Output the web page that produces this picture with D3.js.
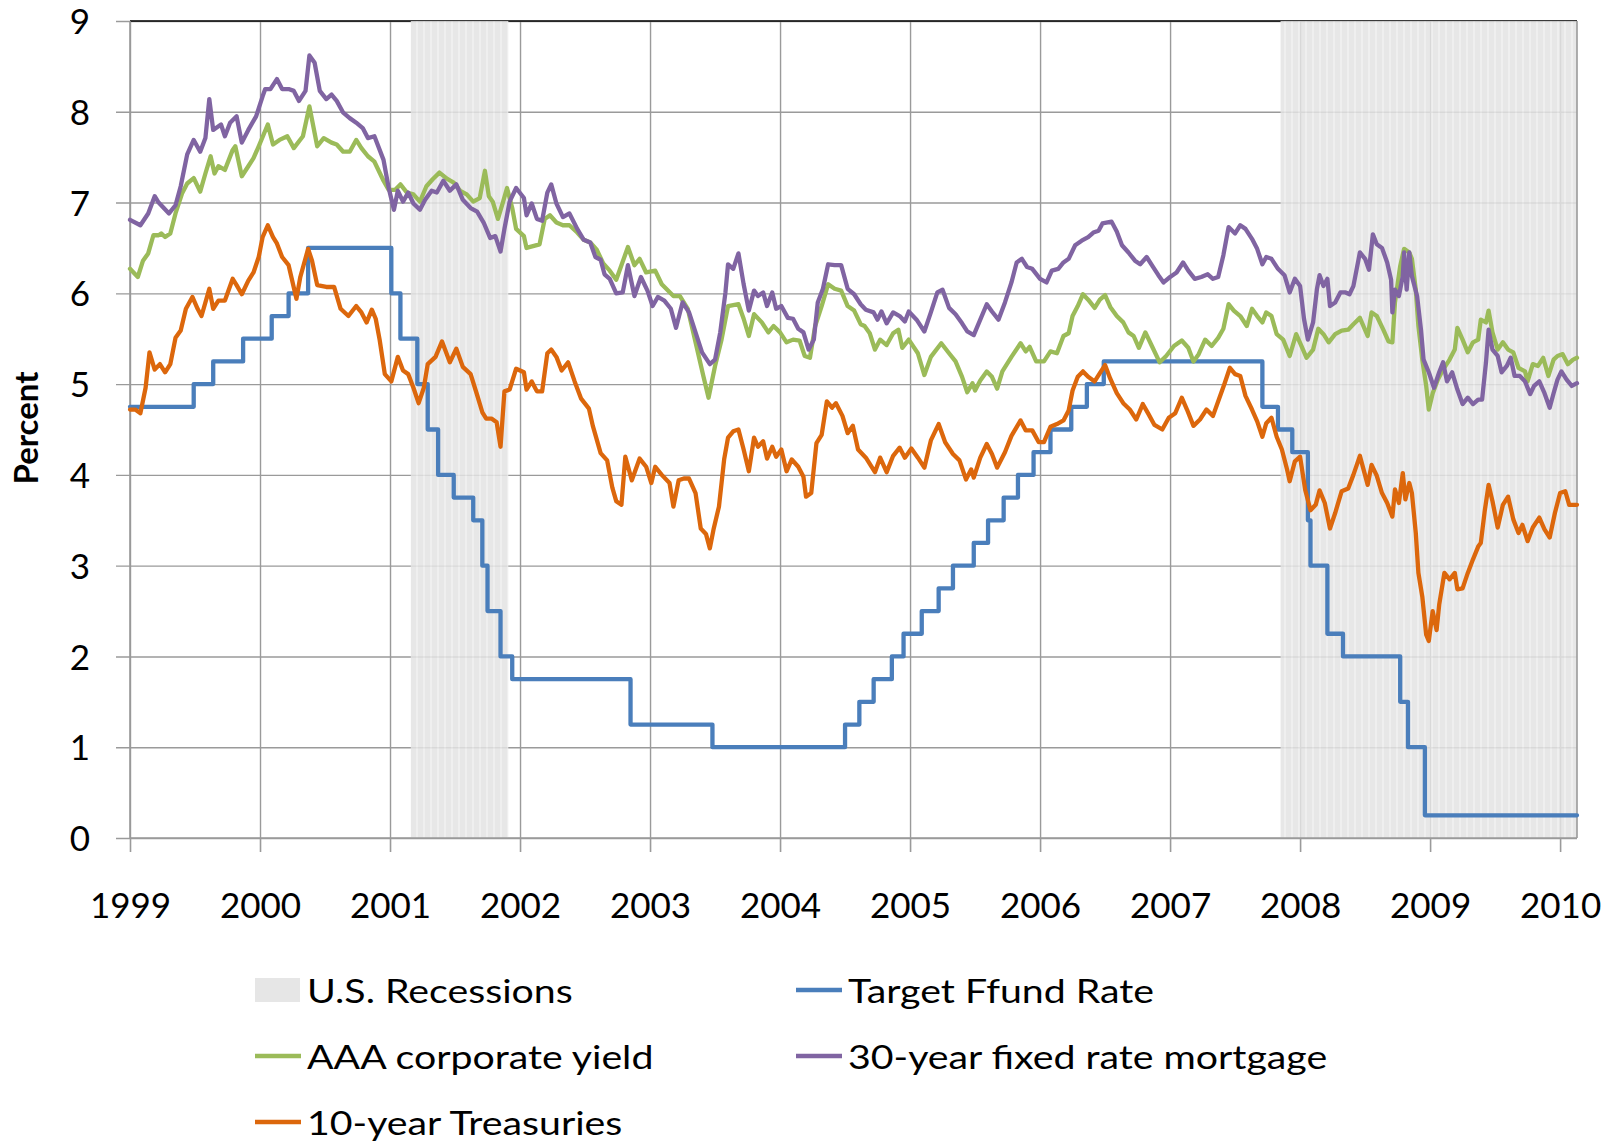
<!DOCTYPE html>
<html>
<head>
<meta charset="utf-8">
<script src="https://cdn.jsdelivr.net/npm/d3@7/dist/d3.min.js"></script>
<style>
  body { margin: 0; background: #fff; }
  svg { display: block; font-family: Lato, "Open Sans", sans-serif; }
</style>
</head>
<body>
<svg width="1609" height="1143"></svg>
<script>
// values, [decimal year, percent]
const yearTicks = [1999, 2000, 2001, 2002, 2003, 2004, 2005, 2006, 2007, 2008, 2009, 2010];
const percentTicks = [0, 1, 2, 3, 4, 5, 6, 7, 8, 9];
const recessions = [[2001.16, 2001.91], [2007.85, 2010.13]];

// target federal funds rate, value in force from each date
const ffund = [
  [1999.00, 4.75], [1999.49, 5.00], [1999.64, 5.25], [1999.87, 5.50], [2000.09, 5.75],
  [2000.22, 6.00], [2000.37, 6.50], [2001.01, 6.00], [2001.08, 5.50], [2001.21, 5.00],
  [2001.29, 4.50], [2001.37, 4.00], [2001.49, 3.75], [2001.64, 3.50], [2001.71, 3.00],
  [2001.75, 2.50], [2001.85, 2.00], [2001.94, 1.75], [2002.85, 1.25], [2003.48, 1.00],
  [2004.50, 1.25], [2004.61, 1.50], [2004.72, 1.75], [2004.86, 2.00], [2004.95, 2.25],
  [2005.09, 2.50], [2005.22, 2.75], [2005.33, 3.00], [2005.49, 3.25], [2005.60, 3.50],
  [2005.72, 3.75], [2005.83, 4.00], [2005.95, 4.25], [2006.08, 4.50], [2006.24, 4.75],
  [2006.36, 5.00], [2006.49, 5.25], [2007.71, 4.75], [2007.83, 4.50], [2007.94, 4.25],
  [2008.06, 3.50], [2008.08, 3.00], [2008.21, 2.25], [2008.33, 2.00], [2008.77, 1.50],
  [2008.83, 1.00], [2008.96, 0.25], [2010.13, 0.25]
];

const aaa = [
  [1999.00,6.27],[1999.06,6.18],[1999.10,6.36],[1999.14,6.44],[1999.18,6.64],[1999.22,6.64],[1999.24,6.66],[1999.27,6.62],[1999.31,6.66],[1999.35,6.88],
  [1999.40,7.10],[1999.44,7.21],[1999.49,7.27],[1999.54,7.12],[1999.58,7.32],[1999.62,7.51],[1999.65,7.32],[1999.68,7.40],[1999.73,7.36],[1999.79,7.58],
  [1999.81,7.62],[1999.86,7.29],[1999.91,7.40],[1999.95,7.49],[1999.99,7.62],[2000.06,7.86],[2000.10,7.64],[2000.15,7.69],[2000.21,7.73],[2000.26,7.60],
  [2000.33,7.73],[2000.38,8.06],[2000.44,7.62],[2000.49,7.71],[2000.55,7.66],[2000.59,7.64],[2000.64,7.56],[2000.69,7.56],[2000.74,7.69],[2000.78,7.60],
  [2000.83,7.51],[2000.88,7.45],[2000.95,7.24],[2000.99,7.14],[2001.04,7.14],[2001.08,7.20],[2001.13,7.11],[2001.18,7.09],[2001.23,7.01],[2001.28,7.18],
  [2001.33,7.26],[2001.38,7.33],[2001.44,7.26],[2001.49,7.22],[2001.54,7.13],[2001.59,7.09],[2001.64,7.01],[2001.69,7.05],[2001.73,7.35],[2001.76,7.07],
  [2001.79,7.01],[2001.83,6.82],[2001.87,7.01],[2001.90,7.16],[2001.94,6.94],[2001.97,6.71],[2002.03,6.63],[2002.05,6.50],[2002.10,6.52],[2002.15,6.54],
  [2002.19,6.82],[2002.23,6.86],[2002.28,6.78],[2002.33,6.75],[2002.38,6.75],[2002.44,6.67],[2002.49,6.59],[2002.54,6.56],[2002.59,6.48],[2002.64,6.33],
  [2002.69,6.25],[2002.74,6.15],[2002.83,6.51],[2002.88,6.31],[2002.92,6.38],[2002.97,6.23],[2003.04,6.25],[2003.09,6.10],[2003.18,5.97],[2003.23,5.97],
  [2003.29,5.83],[2003.35,5.46],[2003.41,5.09],[2003.45,4.85],[2003.50,5.20],[2003.55,5.49],[2003.60,5.86],[2003.68,5.88],[2003.72,5.72],[2003.76,5.53],
  [2003.80,5.77],[2003.86,5.68],[2003.91,5.57],[2003.95,5.64],[2004.00,5.57],[2004.05,5.46],[2004.10,5.49],[2004.15,5.48],[2004.19,5.31],[2004.23,5.29],
  [2004.27,5.64],[2004.32,5.86],[2004.37,6.10],[2004.42,6.05],[2004.47,6.03],[2004.52,5.86],[2004.57,5.81],[2004.62,5.66],[2004.65,5.64],[2004.69,5.56],
  [2004.73,5.38],[2004.77,5.49],[2004.82,5.43],[2004.87,5.56],[2004.91,5.60],[2004.94,5.40],[2004.99,5.49],[2005.06,5.34],[2005.11,5.10],[2005.16,5.30],
  [2005.24,5.45],[2005.30,5.34],[2005.35,5.25],[2005.40,5.08],[2005.44,4.91],[2005.48,5.01],[2005.50,4.93],[2005.54,5.04],[2005.59,5.14],[2005.63,5.08],
  [2005.67,4.95],[2005.71,5.14],[2005.78,5.30],[2005.85,5.45],[2005.89,5.36],[2005.92,5.41],[2005.97,5.25],[2006.03,5.25],[2006.08,5.36],[2006.13,5.34],
  [2006.18,5.53],[2006.22,5.56],[2006.25,5.75],[2006.29,5.86],[2006.33,5.99],[2006.37,5.93],[2006.42,5.84],[2006.46,5.93],[2006.50,5.98],[2006.54,5.85],
  [2006.59,5.75],[2006.64,5.68],[2006.68,5.57],[2006.72,5.53],[2006.76,5.40],[2006.81,5.57],[2006.86,5.42],[2006.92,5.24],[2006.97,5.31],[2007.03,5.42],
  [2007.09,5.48],[2007.14,5.40],[2007.18,5.25],[2007.22,5.33],[2007.27,5.49],[2007.32,5.42],[2007.37,5.51],[2007.41,5.61],[2007.45,5.88],[2007.49,5.81],
  [2007.54,5.75],[2007.59,5.64],[2007.63,5.83],[2007.67,5.75],[2007.71,5.68],[2007.74,5.79],[2007.78,5.75],[2007.82,5.55],[2007.87,5.49],[2007.92,5.31],
  [2007.97,5.55],[2008.01,5.42],[2008.05,5.29],[2008.10,5.38],[2008.14,5.61],[2008.18,5.55],[2008.22,5.46],[2008.27,5.55],[2008.32,5.59],[2008.37,5.60],
  [2008.41,5.66],[2008.46,5.73],[2008.52,5.53],[2008.55,5.79],[2008.59,5.75],[2008.64,5.60],[2008.68,5.47],[2008.71,5.46],[2008.73,5.90],[2008.77,6.30],
  [2008.80,6.49],[2008.84,6.45],[2008.86,6.38],[2008.89,6.04],[2008.91,5.64],[2008.94,5.27],[2008.97,4.98],[2008.99,4.72],[2009.02,4.90],[2009.06,5.05],
  [2009.10,5.16],[2009.15,5.27],[2009.19,5.38],[2009.21,5.62],[2009.25,5.49],[2009.29,5.35],[2009.33,5.46],[2009.37,5.49],[2009.39,5.71],[2009.43,5.68],
  [2009.45,5.81],[2009.48,5.57],[2009.52,5.38],[2009.56,5.46],[2009.60,5.38],[2009.64,5.35],[2009.68,5.18],[2009.73,5.14],[2009.75,5.03],[2009.79,5.22],
  [2009.83,5.20],[2009.87,5.29],[2009.91,5.09],[2009.95,5.27],[2009.98,5.31],[2010.02,5.33],[2010.06,5.22],[2010.10,5.27],[2010.13,5.29]
];

const mortgage = [
  [1999.00,6.81],[1999.08,6.75],[1999.14,6.88],[1999.19,7.07],[1999.22,7.00],[1999.30,6.88],[1999.35,6.97],[1999.39,7.18],[1999.44,7.53],[1999.49,7.69],
  [1999.54,7.56],[1999.58,7.71],[1999.61,8.14],[1999.64,7.80],[1999.70,7.86],[1999.73,7.73],[1999.77,7.88],[1999.82,7.95],[1999.86,7.66],[1999.91,7.80],
  [1999.97,7.95],[2000.02,8.17],[2000.04,8.25],[2000.08,8.25],[2000.13,8.36],[2000.17,8.25],[2000.22,8.25],[2000.26,8.23],[2000.30,8.12],[2000.35,8.23],
  [2000.38,8.62],[2000.42,8.54],[2000.46,8.23],[2000.51,8.14],[2000.55,8.19],[2000.59,8.12],[2000.64,7.99],[2000.69,7.93],[2000.74,7.88],[2000.79,7.82],
  [2000.83,7.71],[2000.88,7.73],[2000.95,7.47],[2000.99,7.16],[2001.03,6.92],[2001.06,7.13],[2001.10,7.01],[2001.14,7.11],[2001.18,6.99],[2001.23,6.92],
  [2001.27,7.03],[2001.32,7.13],[2001.36,7.11],[2001.41,7.24],[2001.46,7.13],[2001.51,7.20],[2001.56,7.03],[2001.62,6.94],[2001.67,6.90],[2001.72,6.78],
  [2001.77,6.61],[2001.81,6.63],[2001.85,6.46],[2001.88,6.71],[2001.92,7.01],[2001.97,7.16],[2002.03,7.05],[2002.05,6.86],[2002.09,6.99],[2002.13,6.82],
  [2002.17,6.80],[2002.21,7.11],[2002.24,7.20],[2002.28,6.99],[2002.33,6.84],[2002.38,6.88],[2002.44,6.71],[2002.49,6.59],[2002.54,6.56],[2002.58,6.40],
  [2002.62,6.37],[2002.65,6.21],[2002.69,6.16],[2002.74,6.00],[2002.79,6.01],[2002.83,6.31],[2002.88,5.97],[2002.93,6.18],[2002.98,6.03],[2003.02,5.86],
  [2003.06,5.96],[2003.11,5.92],[2003.16,5.83],[2003.20,5.62],[2003.25,5.90],[2003.30,5.79],[2003.35,5.57],[2003.40,5.35],[2003.46,5.22],[2003.50,5.27],
  [2003.54,5.57],[2003.58,6.01],[2003.60,6.32],[2003.64,6.27],[2003.68,6.44],[2003.72,6.10],[2003.76,5.81],[2003.80,6.03],[2003.83,5.97],[2003.87,6.01],
  [2003.90,5.86],[2003.94,6.01],[2003.97,5.83],[2004.01,5.86],[2004.06,5.73],[2004.10,5.72],[2004.14,5.61],[2004.18,5.57],[2004.22,5.38],[2004.26,5.49],
  [2004.29,5.90],[2004.33,6.05],[2004.37,6.32],[2004.42,6.31],[2004.47,6.31],[2004.52,6.05],[2004.57,5.99],[2004.62,5.88],[2004.66,5.82],[2004.72,5.79],
  [2004.75,5.71],[2004.78,5.80],[2004.82,5.67],[2004.87,5.79],[2004.92,5.75],[2004.96,5.69],[2004.99,5.80],[2005.05,5.71],[2005.11,5.58],[2005.16,5.79],
  [2005.21,6.01],[2005.25,6.04],[2005.30,5.84],[2005.35,5.77],[2005.40,5.67],[2005.44,5.58],[2005.49,5.54],[2005.54,5.71],[2005.59,5.88],[2005.63,5.80],
  [2005.68,5.71],[2005.73,5.90],[2005.78,6.12],[2005.82,6.34],[2005.86,6.38],[2005.90,6.29],[2005.94,6.27],[2006.00,6.16],[2006.05,6.12],[2006.09,6.25],
  [2006.14,6.27],[2006.18,6.34],[2006.22,6.38],[2006.27,6.53],[2006.32,6.58],[2006.37,6.62],[2006.41,6.67],[2006.45,6.69],[2006.48,6.77],[2006.55,6.79],
  [2006.59,6.68],[2006.63,6.53],[2006.68,6.45],[2006.73,6.36],[2006.77,6.32],[2006.82,6.40],[2006.86,6.31],[2006.91,6.20],[2006.95,6.12],[2007.00,6.18],
  [2007.05,6.23],[2007.10,6.34],[2007.14,6.25],[2007.19,6.16],[2007.24,6.18],[2007.29,6.21],[2007.33,6.16],[2007.37,6.18],[2007.41,6.42],[2007.45,6.73],
  [2007.50,6.66],[2007.54,6.75],[2007.58,6.71],[2007.63,6.60],[2007.67,6.49],[2007.71,6.32],[2007.74,6.40],[2007.78,6.38],[2007.83,6.27],[2007.88,6.20],
  [2007.92,6.01],[2007.96,6.16],[2008.00,6.08],[2008.03,5.72],[2008.06,5.49],[2008.10,5.68],[2008.13,6.05],[2008.15,6.20],[2008.18,6.08],[2008.21,6.16],
  [2008.23,5.86],[2008.27,5.90],[2008.31,6.01],[2008.35,6.01],[2008.38,5.99],[2008.41,6.08],[2008.46,6.45],[2008.50,6.38],[2008.53,6.26],[2008.56,6.65],
  [2008.59,6.54],[2008.63,6.50],[2008.67,6.34],[2008.70,6.15],[2008.71,5.79],[2008.73,6.04],[2008.76,5.97],[2008.79,6.19],[2008.80,6.45],[2008.82,6.04],
  [2008.84,6.45],[2008.86,6.19],[2008.90,5.97],[2008.93,5.60],[2008.95,5.27],[2008.99,5.13],[2009.03,4.96],[2009.07,5.13],[2009.10,5.24],[2009.13,5.03],
  [2009.17,5.13],[2009.21,4.94],[2009.25,4.78],[2009.29,4.85],[2009.33,4.78],[2009.37,4.83],[2009.40,4.83],[2009.43,5.24],[2009.45,5.60],[2009.48,5.38],
  [2009.52,5.31],[2009.55,5.13],[2009.59,5.20],[2009.62,5.29],[2009.65,5.09],[2009.69,5.09],[2009.73,5.03],[2009.77,4.89],[2009.80,4.98],[2009.84,5.03],
  [2009.88,4.90],[2009.92,4.74],[2009.95,4.90],[2009.98,5.05],[2010.01,5.14],[2010.05,5.05],[2010.09,4.98],[2010.13,5.01]
];

const treasury10 = [
  [1999.00,4.72],[1999.04,4.72],[1999.08,4.68],[1999.12,4.96],[1999.15,5.35],[1999.19,5.16],[1999.23,5.22],[1999.27,5.13],[1999.31,5.22],[1999.35,5.51],
  [1999.39,5.59],[1999.43,5.83],[1999.48,5.96],[1999.52,5.83],[1999.55,5.75],[1999.61,6.05],[1999.64,5.83],[1999.68,5.92],[1999.73,5.92],[1999.79,6.16],
  [1999.82,6.09],[1999.86,5.99],[1999.91,6.14],[1999.95,6.23],[1999.99,6.40],[2000.02,6.62],[2000.06,6.75],[2000.10,6.62],[2000.13,6.55],[2000.17,6.40],
  [2000.22,6.31],[2000.28,5.94],[2000.31,6.18],[2000.37,6.49],[2000.40,6.36],[2000.44,6.09],[2000.51,6.07],[2000.57,6.07],[2000.62,5.83],[2000.68,5.75],
  [2000.74,5.86],[2000.78,5.79],[2000.82,5.68],[2000.86,5.82],[2000.89,5.72],[2000.92,5.49],[2000.96,5.11],[2001.01,5.03],[2001.06,5.30],[2001.10,5.15],
  [2001.14,5.11],[2001.18,4.96],[2001.22,4.79],[2001.26,4.96],[2001.29,5.22],[2001.35,5.30],[2001.40,5.47],[2001.46,5.24],[2001.51,5.39],[2001.56,5.19],
  [2001.62,5.11],[2001.67,4.88],[2001.71,4.69],[2001.74,4.62],[2001.78,4.62],[2001.82,4.58],[2001.85,4.31],[2001.88,4.92],[2001.92,4.94],[2001.97,5.17],
  [2002.03,5.13],[2002.05,4.94],[2002.09,5.03],[2002.13,4.92],[2002.17,4.92],[2002.21,5.34],[2002.24,5.38],[2002.28,5.30],[2002.32,5.15],[2002.37,5.24],
  [2002.42,5.03],[2002.47,4.84],[2002.53,4.73],[2002.56,4.54],[2002.62,4.24],[2002.67,4.16],[2002.71,3.86],[2002.74,3.71],[2002.78,3.67],[2002.81,4.20],
  [2002.86,3.94],[2002.92,4.18],[2002.97,4.09],[2003.01,3.91],[2003.04,4.09],[2003.09,4.00],[2003.15,3.91],[2003.18,3.65],[2003.22,3.94],[2003.26,3.96],
  [2003.30,3.96],[2003.35,3.80],[2003.39,3.41],[2003.43,3.35],[2003.46,3.19],[2003.49,3.41],[2003.53,3.65],[2003.57,4.17],[2003.60,4.41],[2003.64,4.48],
  [2003.68,4.50],[2003.72,4.28],[2003.76,4.04],[2003.80,4.41],[2003.83,4.31],[2003.87,4.37],[2003.90,4.18],[2003.94,4.31],[2003.97,4.20],[2004.01,4.28],
  [2004.05,4.04],[2004.09,4.17],[2004.14,4.09],[2004.18,3.98],[2004.20,3.76],[2004.24,3.80],[2004.28,4.35],[2004.32,4.44],[2004.36,4.81],[2004.40,4.74],
  [2004.43,4.79],[2004.48,4.65],[2004.52,4.46],[2004.56,4.54],[2004.60,4.28],[2004.64,4.22],[2004.66,4.19],[2004.73,4.03],[2004.77,4.19],[2004.82,4.03],
  [2004.87,4.21],[2004.92,4.30],[2004.96,4.19],[2005.01,4.29],[2005.06,4.19],[2005.11,4.08],[2005.16,4.38],[2005.22,4.56],[2005.27,4.36],[2005.33,4.23],
  [2005.38,4.16],[2005.43,3.95],[2005.47,4.06],[2005.49,3.97],[2005.54,4.19],[2005.59,4.34],[2005.63,4.23],[2005.67,4.08],[2005.73,4.25],[2005.78,4.43],
  [2005.85,4.60],[2005.89,4.49],[2005.94,4.49],[2005.99,4.36],[2006.03,4.36],[2006.08,4.53],[2006.13,4.56],[2006.18,4.60],[2006.22,4.71],[2006.25,4.93],
  [2006.29,5.08],[2006.33,5.14],[2006.37,5.08],[2006.42,5.03],[2006.46,5.12],[2006.50,5.21],[2006.54,5.06],[2006.59,4.90],[2006.64,4.79],[2006.69,4.72],
  [2006.74,4.61],[2006.79,4.78],[2006.83,4.68],[2006.88,4.55],[2006.94,4.50],[2006.99,4.63],[2007.04,4.68],[2007.09,4.85],[2007.13,4.72],[2007.18,4.54],
  [2007.23,4.61],[2007.28,4.72],[2007.33,4.65],[2007.38,4.85],[2007.42,5.01],[2007.46,5.18],[2007.50,5.11],[2007.54,5.09],[2007.58,4.87],[2007.63,4.72],
  [2007.67,4.59],[2007.71,4.42],[2007.74,4.57],[2007.78,4.63],[2007.82,4.42],[2007.86,4.28],[2007.90,4.06],[2007.92,3.93],[2007.96,4.15],[2008.00,4.20],
  [2008.04,3.83],[2008.08,3.61],[2008.12,3.67],[2008.15,3.83],[2008.19,3.69],[2008.23,3.41],[2008.27,3.58],[2008.32,3.82],[2008.37,3.85],[2008.41,4.00],
  [2008.46,4.21],[2008.52,3.89],[2008.55,4.11],[2008.59,3.99],[2008.63,3.80],[2008.67,3.69],[2008.71,3.54],[2008.73,3.84],[2008.76,3.69],[2008.79,4.02],
  [2008.81,3.73],[2008.84,3.91],[2008.86,3.80],[2008.89,3.36],[2008.91,2.92],[2008.94,2.66],[2008.97,2.24],[2008.99,2.17],[2009.02,2.50],[2009.05,2.29],
  [2009.07,2.57],[2009.11,2.92],[2009.15,2.85],[2009.19,2.92],[2009.21,2.74],[2009.25,2.75],[2009.29,2.92],[2009.33,3.07],[2009.37,3.21],[2009.39,3.25],
  [2009.42,3.60],[2009.45,3.89],[2009.48,3.71],[2009.52,3.42],[2009.56,3.67],[2009.60,3.76],[2009.64,3.51],[2009.68,3.36],[2009.71,3.45],[2009.75,3.27],
  [2009.79,3.42],[2009.84,3.53],[2009.88,3.40],[2009.92,3.31],[2009.96,3.58],[2010.00,3.80],[2010.04,3.82],[2010.07,3.67],[2010.13,3.67]
];

const svg = d3.select("svg");
const plotL = 130, plotR = 1577, plotT = 21, plotB = 838;

const x = d3.scaleLinear().domain([1999, 2010.13]).range([plotL, plotR]);
const y = d3.scaleLinear().domain([0, 9]).range([plotB, plotT]);

// shading texture for the recession bars
const defs = svg.append("defs");
const pat = defs.append("pattern")
  .attr("id", "stripes")
  .attr("patternUnits", "userSpaceOnUse")
  .attr("width", 7).attr("height", 10);
pat.append("rect").attr("width", 7).attr("height", 10).attr("fill", "#e3e3e3");
pat.append("rect").attr("x", 3).attr("width", 2).attr("height", 10).attr("fill", "#ececec");

// horizontal grid + y labels
svg.append("g")
  .attr("transform", "translate(116,0)")
  .call(d3.axisLeft(y).tickValues(percentTicks).tickSize(-(plotR - 116)).tickPadding(26).tickFormat(d3.format("d")))
  .call(g => g.select(".domain").remove())
  .call(g => g.selectAll("line").attr("stroke", "#9a9a9a").attr("stroke-width", 1.4))
  .call(g => g.selectAll("text").attr("fill", "#000").attr("dy", "0.36em").style("font-size", "35px").style("font-family", "Lato, sans-serif"));

// vertical grid
svg.append("g")
  .attr("transform", `translate(0,${plotB})`)
  .call(d3.axisBottom(x).tickValues(yearTicks).tickSize(-(plotB - plotT)).tickFormat(""))
  .call(g => g.select(".domain").remove())
  .call(g => g.selectAll("line").attr("stroke", "#9a9a9a").attr("stroke-width", 1.4));

// top border
svg.append("line")
  .attr("x1", plotL).attr("x2", plotR).attr("y1", plotT).attr("y2", plotT)
  .attr("stroke", "#000").attr("stroke-width", 1.6);

// recessions
svg.append("g").selectAll("rect")
  .data(recessions)
  .join("rect")
  .attr("x", d => x(d[0]))
  .attr("y", plotT)
  .attr("width", d => x(d[1]) - x(d[0]))
  .attr("height", plotB - plotT)
  .attr("fill", "url(#stripes)")
  .attr("opacity", 0.85);

// right border
svg.append("line")
  .attr("x1", plotR).attr("x2", plotR).attr("y1", plotT).attr("y2", plotB)
  .attr("stroke", "#9a9a9a").attr("stroke-width", 1.6);

// x axis with year labels
svg.append("g")
  .attr("transform", `translate(0,${plotB})`)
  .call(d3.axisBottom(x).tickValues(yearTicks).tickSize(14).tickPadding(41).tickFormat(d3.format("d")))
  .call(g => g.select(".domain").attr("d", `M${plotL},0H${plotR}`).attr("stroke", "#9a9a9a").attr("stroke-width", 1.6))
  .call(g => g.selectAll("line").attr("stroke", "#9a9a9a").attr("stroke-width", 1.6))
  .call(g => g.selectAll("text").attr("fill", "#000").style("font-size", "35px").style("font-family", "Lato, sans-serif"));

// left axis line
svg.append("line")
  .attr("x1", plotL).attr("x2", plotL).attr("y1", plotT).attr("y2", plotB)
  .attr("stroke", "#9a9a9a").attr("stroke-width", 1.6);

// series
const line = d3.line().x(d => x(d[0])).y(d => y(d[1]));
const stepLine = d3.line().x(d => x(d[0])).y(d => y(d[1])).curve(d3.curveStepAfter);

const series = [
  { name: "Target Ffund Rate", data: ffund, color: "#4a7ebb", gen: stepLine },
  { name: "AAA corporate yield", data: aaa, color: "#9bbb59", gen: line },
  { name: "30-year fixed rate mortgage", data: mortgage, color: "#8064a2", gen: line },
  { name: "10-year Treasuries", data: treasury10, color: "#dc670c", gen: line }
];

svg.append("g").selectAll("path")
  .data(series)
  .join("path")
  .attr("d", d => d.gen(d.data))
  .attr("fill", "none")
  .attr("stroke", d => d.color)
  .attr("stroke-width", 4.3)
  .attr("stroke-linejoin", "round")
  .attr("stroke-linecap", "round");

// y title
svg.append("text")
  .attr("transform", "translate(30,428) rotate(-90)")
  .attr("text-anchor", "middle")
  .attr("dominant-baseline", "middle")
  .style("font-size", "33px")
  .style("font-weight", "bold")
  .text("Percent");

// legend
const legendItems = [
  { name: "U.S. Recessions", type: "box", col: 0, row: 0 },
  { name: "Target Ffund Rate", color: "#4a7ebb", col: 1, row: 0 },
  { name: "AAA corporate yield", color: "#9bbb59", col: 0, row: 1 },
  { name: "30-year fixed rate mortgage", color: "#8064a2", col: 1, row: 1 },
  { name: "10-year Treasuries", color: "#dc670c", col: 0, row: 2 }
];
const colX = [255, 796], rowY = [990, 1056, 1122];

const leg = svg.append("g").selectAll("g")
  .data(legendItems)
  .join("g")
  .attr("transform", d => `translate(${colX[d.col]},${rowY[d.row]})`);

leg.filter(d => d.type === "box").append("rect")
  .attr("x", 0).attr("y", -12).attr("width", 45).attr("height", 24)
  .attr("fill", "#e6e6e6");

leg.filter(d => d.type !== "box").append("line")
  .attr("x1", 0).attr("x2", 46).attr("y1", 0).attr("y2", 0)
  .attr("stroke", d => d.color).attr("stroke-width", 4.3);

leg.append("text")
  .attr("transform", "translate(52,0) scale(1.19,1)")
  .attr("dominant-baseline", "central")
  .style("font-size", "33px")
  .text(d => d.name);
</script>
</body>
</html>
